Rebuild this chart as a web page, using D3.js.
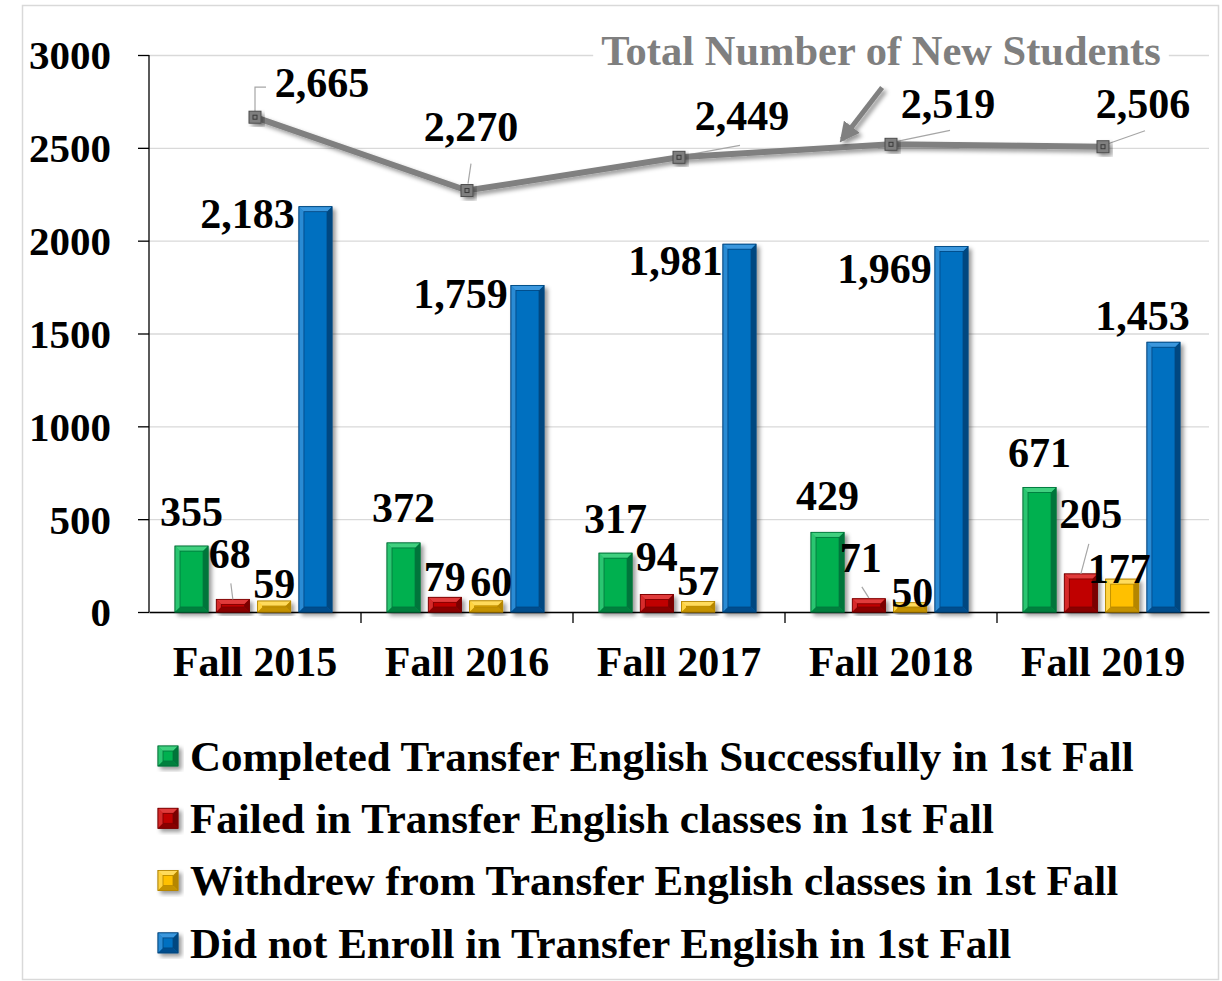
<!DOCTYPE html>
<html>
<head>
<meta charset="utf-8">
<script src="https://cdn.jsdelivr.net/npm/d3@7"></script>
<style>
  body { margin: 0; background: #fff; }
  text { font-family: "Liberation Serif", "Times New Roman", serif; font-weight: bold; }
</style>
</head>
<body>
<div class="chart"></div>
<script>
// data
var categories = ["Fall 2015", "Fall 2016", "Fall 2017", "Fall 2018", "Fall 2019"];
var seriesNames = [
    "Completed Transfer English Successfully in 1st Fall",
    "Failed in Transfer English classes in 1st Fall",
    "Withdrew from Transfer English classes in 1st Fall",
    "Did not Enroll in Transfer English in 1st Fall"
];
var completed = [355, 372, 317, 429, 671];
var failed = [68, 79, 94, 71, 205];
var withdrew = [59, 60, 57, 50, 177];
var notEnrolled = [2183, 1759, 1981, 1969, 1453];
var totalNew = [2665, 2270, 2449, 2519, 2506];
var yTicks = [0, 500, 1000, 1500, 2000, 2500, 3000];

// colours: face, light edge, dark edge
var palette = [
    {face: "#00B050", light: "#3fd07f", dark: "#00743a"},
    {face: "#C00000", light: "#e03a3a", dark: "#7a0000"},
    {face: "#FFC000", light: "#ffdb5c", dark: "#b58600"},
    {face: "#0070C0", light: "#3a97dd", dark: "#004680"}
];

// label offsets from the top centre of each bar (per series, per category)
var barLabelOffsets = [
    [[0, -20], [0, -21], [0, -20], [0, -22], [0, -20]],
    [[-3, -31], [0, -6], [0, -24], [-8, -27], [10, -46]],
    [[0, -3], [5, -5], [0, -6], [2, 4], [-3, 4]],
    [[-68, 21], [-67, 23], [-64, 31], [-67, 37], [-21, -12]]
];
var lineLabelOffsets = [[67, -20], [4, -50], [63, -27], [57, -26], [40, -29]];

//margins
var margin = {top: 55, left: 149},
    width = 1060,
    height = 557;

var svg = d3.select(".chart").append("svg")
    .attr("width", 1222)
    .attr("height", 981);

var defs = svg.append("defs");
var shadow = defs.append("filter").attr("id", "shadow")
    .attr("x", "-30%").attr("y", "-30%").attr("width", "160%").attr("height", "160%");
shadow.append("feDropShadow")
    .attr("dx", 3).attr("dy", 3).attr("stdDeviation", 2)
    .attr("flood-color", "#000").attr("flood-opacity", 0.4);

// outer border
svg.append("rect")
    .attr("x", 22.5).attr("y", 5.5)
    .attr("width", 1196).attr("height", 974)
    .attr("fill", "#fff")
    .attr("stroke", "#d9d9d9")
    .attr("stroke-width", 1.5);

var g = svg.append("g")
    .attr("transform", "translate(" + margin.left + "," + margin.top + ")");

// scales
var x0 = d3.scaleBand().domain(categories).range([0, width]);
var x1 = d3.scaleBand().domain(d3.range(4)).range([26, 183]).paddingInner(0.2);
var y = d3.scaleLinear().domain([0, 3000]).range([height, 0]);

// gridlines
g.append("g")
    .attr("class", "grid")
    .call(d3.axisLeft(y).tickValues(yTicks).tickSize(-width).tickFormat(""))
    .call(function (s) {
        s.select(".domain").remove();
        s.selectAll("line").attr("stroke", "#d9d9d9").attr("stroke-width", 1.3);
    });

// y axis
g.append("g")
    .call(d3.axisLeft(y).tickValues(yTicks).tickSize(11).tickPadding(27).tickFormat(d3.format("d")))
    .call(function (s) {
        s.select(".domain").attr("stroke", "#000").attr("stroke-width", 1.3).attr("d", "M0,0V" + height);
        s.selectAll("line").attr("stroke", "#000").attr("stroke-width", 1.3);
        s.selectAll("text").attr("font-size", "41px").attr("fill", "#000").attr("dy", "0.34em")
            .style("font-family", "Liberation Serif").style("font-weight", "bold");
    });

// x axis
var xAxis = d3.axisBottom(x0).tickSize(0).tickPadding(34);
g.append("g")
    .attr("transform", "translate(0," + height + ")")
    .call(xAxis)
    .call(function (s) {
        s.select(".domain").attr("stroke", "#000").attr("stroke-width", 1.3);
        s.selectAll("text").attr("font-size", "42px").attr("fill", "#000")
            .style("font-family", "Liberation Serif").style("font-weight", "bold");
    });
// category separator ticks
g.append("g").selectAll("line")
    .data(categories.slice(1))
    .enter().append("line")
    .attr("x1", function (d) { return x0(d); })
    .attr("x2", function (d) { return x0(d); })
    .attr("y1", height)
    .attr("y2", height + 11)
    .attr("stroke", "#000")
    .attr("stroke-width", 1.3);

// bevelled bar drawing
function bevelBar(sel, bx, by, bw, bh, col) {
    var b = Math.min(5, bh / 2.2);
    var grp = sel.append("g").attr("filter", "url(#shadow)");
    grp.append("rect").attr("x", bx).attr("y", by).attr("width", bw).attr("height", bh)
        .attr("fill", col.face).attr("stroke", col.dark).attr("stroke-width", 0.8);
    var pts = function (a) { return a.map(function (p) { return p.join(","); }).join(" "); };
    grp.append("polygon").attr("fill", col.light).attr("points",
        pts([[bx, by], [bx + bw, by], [bx + bw - b, by + b], [bx + b, by + b]]));
    grp.append("polygon").attr("fill", col.light).attr("opacity", 0.7).attr("points",
        pts([[bx, by], [bx + b, by + b], [bx + b, by + bh - b], [bx, by + bh]]));
    grp.append("polygon").attr("fill", col.dark).attr("points",
        pts([[bx + bw, by], [bx + bw, by + bh], [bx + bw - b, by + bh - b], [bx + bw - b, by + b]]));
    grp.append("polygon").attr("fill", col.dark).attr("opacity", 0.8).attr("points",
        pts([[bx, by + bh], [bx + bw, by + bh], [bx + bw - b, by + bh - b], [bx + b, by + bh - b]]));
    grp.append("rect").attr("x", bx + b).attr("y", by + b)
        .attr("width", Math.max(0, bw - 2 * b)).attr("height", Math.max(0, bh - 2 * b))
        .attr("fill", col.face).attr("stroke", col.dark).attr("stroke-width", 0.8);
    grp.append("rect").attr("x", bx).attr("y", by).attr("width", bw).attr("height", bh)
        .attr("fill", "none").attr("stroke", col.dark).attr("stroke-width", 0.8);
}

var seriesValues = [completed, failed, withdrew, notEnrolled];
var barsG = g.append("g");
seriesValues.forEach(function (vals, si) {
    vals.forEach(function (v, ci) {
        var bx = x0(categories[ci]) + x1(si);
        bevelBar(barsG, bx, y(v), x1.bandwidth(), height - y(v), palette[si]);
    });
});

// leader lines for a few bar labels
var barLeaders = [
    {s: 1, c: 0, pts: [[0, 0], [-2, -16]]},
    {s: 1, c: 3, pts: [[0, -1], [-7, -12]]},
    {s: 1, c: 4, pts: [[0, 0], [8, -30]]}
];
barLeaders.forEach(function (l) {
    var cx = x0(categories[l.c]) + x1(l.s) + x1.bandwidth() / 2;
    var cy = y(seriesValues[l.s][l.c]);
    g.append("line")
        .attr("x1", cx + l.pts[0][0]).attr("y1", cy + l.pts[0][1])
        .attr("x2", cx + l.pts[1][0]).attr("y2", cy + l.pts[1][1])
        .attr("stroke", "#a6a6a6").attr("stroke-width", 1.2);
});

// bar labels
var fmt = d3.format(",");
seriesValues.forEach(function (vals, si) {
    g.append("g").selectAll("text")
        .data(vals)
        .enter().append("text")
        .attr("x", function (d, ci) { return x0(categories[ci]) + x1(si) + x1.bandwidth() / 2 + barLabelOffsets[si][ci][0]; })
        .attr("y", function (d, ci) { return y(d) + barLabelOffsets[si][ci][1]; })
        .attr("text-anchor", "middle")
        .attr("font-size", "42px")
        .attr("fill", "#000")
        .text(function (d) { return fmt(d); });
});

// total line
var cx = function (i) { return x0(categories[i]) + x0.bandwidth() / 2; };
var line = d3.line()
    .x(function (d, i) { return cx(i); })
    .y(function (d) { return y(d); });

// leader lines for line labels
var lineLeaders = [
    [[0, -6], [0, -30], [11, -30]],
    [[1, -7], [4, -27]],
    [[6, -2], [61, -12]],
    [[6, -3], [59, -14]],
    [[5, -3], [42, -16]]
];
lineLeaders.forEach(function (pts, i) {
    g.append("polyline")
        .attr("points", pts.map(function (p) { return (cx(i) + p[0]) + "," + (y(totalNew[i]) + p[1]); }).join(" "))
        .attr("fill", "none")
        .attr("stroke", "#a6a6a6")
        .attr("stroke-width", 1.2);
});

g.append("path")
    .datum(totalNew)
    .attr("d", line)
    .attr("fill", "none")
    .attr("stroke", "#808080")
    .attr("stroke-width", 6)
    .attr("filter", "url(#shadow)");

var markers = g.append("g").selectAll("g")
    .data(totalNew)
    .enter().append("g")
    .attr("filter", "url(#shadow)")
    .attr("transform", function (d, i) { return "translate(" + cx(i) + "," + y(d) + ")"; });
markers.append("rect")
    .attr("x", -6).attr("y", -6).attr("width", 12).attr("height", 12)
    .attr("fill", "#7f7f7f").attr("stroke", "#4d4d4d").attr("stroke-width", 1);
markers.append("rect")
    .attr("x", -2).attr("y", -2).attr("width", 4).attr("height", 4)
    .attr("fill", "none").attr("stroke", "#3a3a3a").attr("stroke-width", 1);

g.append("g").selectAll("text")
    .data(totalNew)
    .enter().append("text")
    .attr("x", function (d, i) { return cx(i) + lineLabelOffsets[i][0]; })
    .attr("y", function (d, i) { return y(d) + lineLabelOffsets[i][1]; })
    .attr("text-anchor", "middle")
    .attr("font-size", "42px")
    .attr("fill", "#000")
    .text(function (d) { return fmt(d); });

// title annotation with arrow
var titleBg = g.append("rect").attr("fill", "#fff");
var title = g.append("text")
    .attr("x", 732)
    .attr("y", 10)
    .attr("text-anchor", "middle")
    .attr("font-size", "42.5px")
    .attr("fill", "#7f7f7f")
    .text("Total Number of New Students");
var tb = title.node().getBBox();
titleBg.attr("x", tb.x - 8).attr("y", tb.y)
    .attr("width", tb.width + 16).attr("height", tb.height);

var tipX = cx(2) + 0.76 * (cx(3) - cx(2));
var tipY = y(totalNew[2]) + 0.76 * (y(totalNew[3]) - y(totalNew[2])) - 5;
defs.append("marker")
    .attr("id", "arrowhead")
    .attr("viewBox", "0 0 10 10")
    .attr("refX", 8).attr("refY", 5)
    .attr("markerWidth", 4).attr("markerHeight", 4)
    .attr("orient", "auto")
    .append("path").attr("d", "M0,0L10,5L0,10z").attr("fill", "#808080");
g.append("line")
    .attr("x1", tipX + 42).attr("y1", tipY - 55)
    .attr("x2", tipX + 2).attr("y2", tipY - 3)
    .attr("stroke", "#808080")
    .attr("stroke-width", 5)
    .attr("marker-end", "url(#arrowhead)")
    .attr("filter", "url(#shadow)");

// legend
var legend = svg.append("g").selectAll("g")
    .data(seriesNames)
    .enter().append("g")
    .attr("transform", function (d, i) { return "translate(158," + (756 + i * 62.3) + ")"; });
legend.each(function (d, i) {
    bevelBar(d3.select(this), 0, -10, 20, 20, palette[i]);
});
legend.append("text")
    .attr("x", 32)
    .attr("y", 0)
    .attr("dy", "0.34em")
    .attr("font-size", "43px")
    .attr("fill", "#000")
    .text(function (d) { return d; });
</script>
</body>
</html>
